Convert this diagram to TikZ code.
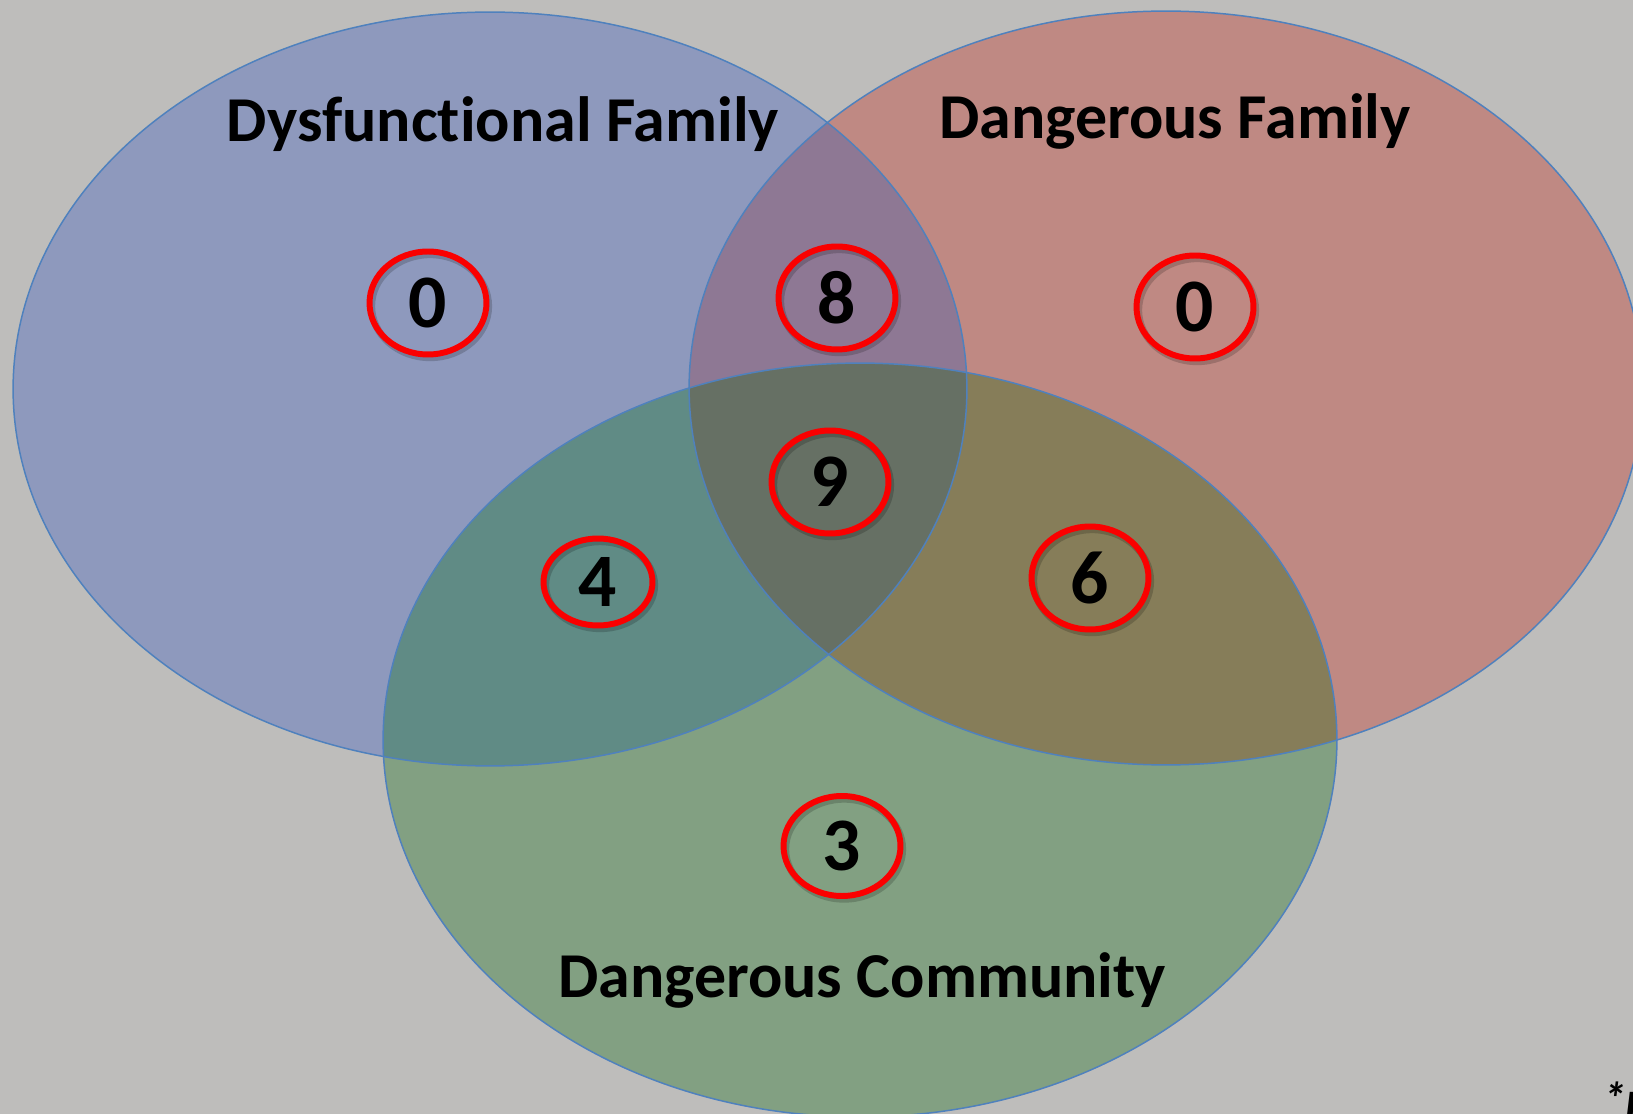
\documentclass[tikz,border=0pt]{standalone}
\usepackage{fontspec}
\setmainfont[Ligatures=CommonOff]{Carlito}
\usetikzlibrary{shapes.geometric}

% region colours
\definecolor{bgGray}{RGB}{190,189,187}
\definecolor{setBlue}{RGB}{142,153,189}
\definecolor{setRed}{RGB}{191,137,131}
\definecolor{setGreen}{RGB}{130,160,130}
\definecolor{blueRed}{RGB}{142,120,148}
\definecolor{blueGreen}{RGB}{96,139,133}
\definecolor{redGreen}{RGB}{134,125,89}
\definecolor{allThree}{RGB}{102,112,100}
\definecolor{rimBlue}{RGB}{79,129,189}
\definecolor{ringRed}{RGB}{250,0,0}

\tikzset{
  setlabel/.style={font=\fontsize{36.4}{43}\selectfont\bfseries, text=black, inner sep=0pt},
  countring/.style={ellipse, draw=ringRed, line width=3.4pt, inner sep=0pt,
    minimum width=2.34cm, minimum height=2.06cm,
    font=\fontsize{43}{50}\selectfont\bfseries, text=black,
    preaction={draw=black, draw opacity=0.18, line width=4pt,
      transform canvas={xshift=1.2pt, yshift=-1.8pt}}},
  rim/.style={draw=rimBlue, line width=0.85pt},
}

\begin{document}
\begin{tikzpicture}[x=0.02cm, y=-0.02cm]
  \useasboundingbox (0,0) rectangle (1633,1114);
  \clip (0,0) rectangle (1633,1114);
  \fill[bgGray] (0,0) rectangle (1633,1114);

  % single sets
  \fill[setBlue]  (490,389) ellipse [x radius=9.54cm, y radius=7.54cm];
  \fill[setRed]   (1166,388) ellipse [x radius=9.54cm, y radius=7.54cm];
  \fill[setGreen] (860,740) ellipse [x radius=9.54cm, y radius=7.54cm];

  % pairwise overlaps inside the blue set
  \begin{scope}
    \clip (490,389) ellipse [x radius=9.54cm, y radius=7.54cm];
    \fill[blueRed]   (1166,388) ellipse [x radius=9.54cm, y radius=7.54cm];
    \fill[blueGreen] (860,740) ellipse [x radius=9.54cm, y radius=7.54cm];
  \end{scope}
  % red and green overlap
  \begin{scope}
    \clip (1166,388) ellipse [x radius=9.54cm, y radius=7.54cm];
    \fill[redGreen] (860,740) ellipse [x radius=9.54cm, y radius=7.54cm];
  \end{scope}
  % common part of all three
  \begin{scope}
    \clip (490,389) ellipse [x radius=9.54cm, y radius=7.54cm];
    \clip (1166,388) ellipse [x radius=9.54cm, y radius=7.54cm];
    \fill[allThree] (860,740) ellipse [x radius=9.54cm, y radius=7.54cm];
  \end{scope}

  % outlines
  \draw[rim] (490,389) ellipse [x radius=9.54cm, y radius=7.54cm];
  \draw[rim] (1166,388) ellipse [x radius=9.54cm, y radius=7.54cm];
  \draw[rim] (860,740) ellipse [x radius=9.54cm, y radius=7.54cm];

  % set names
  \node[setlabel] (dysf) at (503,124) {Dysfunctional Family};
  \node[setlabel] (dangf) at (1175,121) {Dangerous Family};
  \node[setlabel] (dangc) at (862,980) {Dangerous Community};

  % region counts
  \node[countring] (onlyDysf) at (428,303) {0};
  \node[countring] (dysfDangf) at (837,298) {8};
  \node[countring] (onlyDangf) at (1195,307) {0};
  \node[countring] (allSets) at (830,482) {9};
  \node[countring, minimum width=2.18cm, minimum height=1.74cm] (dysfDangc) at (598,582) {4};
  \node[countring] (dangfDangc) at (1090,578) {6};
  \node[countring, minimum height=2.0cm] (onlyDangc) at (842,846) {3};

  % footnote running off the edge
  \node[anchor=base west, inner sep=0pt,
        font=\fontsize{26}{31}\selectfont\bfseries\itshape] (note) at (1603,1114) {*n};
\end{tikzpicture}
\end{document}
